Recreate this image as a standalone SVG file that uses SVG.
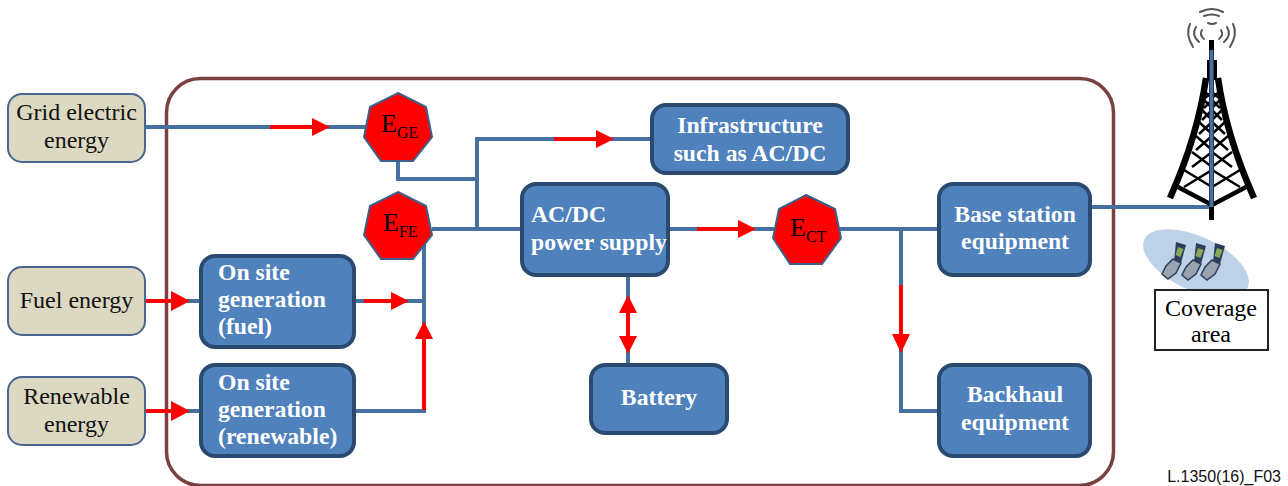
<svg xmlns="http://www.w3.org/2000/svg" width="1288" height="486" viewBox="0 0 1288 486">
<style>
text{font-family:"Liberation Serif","Times New Roman",serif}
.src rect{fill:#ddd8c2;stroke:#4a6590;stroke-width:2}
.src text{font-size:24px;fill:#111;text-anchor:middle}
.box rect{fill:#4f81bd;stroke:#2a4a6f;stroke-width:4}
.box text{font-size:23.700px;font-weight:bold;fill:#fff}
.oct polygon{fill:#f00;stroke:#3e5f8a;stroke-width:2}
.oct text{font-size:26px;fill:#000}
.oct tspan{font-size:16px}
.wire{fill:none;stroke:#45709f;stroke-width:4}
.red{fill:none;stroke:#f00;stroke-width:4}
.head{fill:#f00}
.tw{fill:none;stroke:#000}
.sig{fill:none;stroke:#555;stroke-width:2;stroke-linecap:round}
</style>
<defs>
<g id="phone">
<path d="M1176 242L1186 245L1181 263L1174 261Z" fill="#2f3d5c"/>
<path d="M1178 247L1183.500 249L1180.500 257L1175.500 255Z" fill="#8aa85a"/>
<path d="M1173 259L1181 263L1176 273L1168 279L1162 274L1166 266Z" fill="#9aa4b0" stroke="#2f3d5c" stroke-width="1.500"/>
</g>
</defs>
<rect x="166.500" y="78.500" width="947" height="407" rx="34" fill="#fff" stroke="#7b4040" stroke-width="3.500"/>
<g id="connectors">
<path class="wire" d="M145 127H366M398 160V179H477M432 229H522M477 229V139H652M424 240V411H355M355 301H424M146 301H201M146 411H201M628 275V365M668 229H774M838 229H938M901 229V411H938M1090 207H1211.500V50"/>
<path class="red" d="M270 127H314M146 301H172M146 411H172M364 301H392M424 410V338M554 139H598M628 310V338M697 229H740M901 285V335"/>
<polygon class="head" points="312,118 330,127 312,136"/>
<polygon class="head" points="171,291 190,301 171,311"/>
<polygon class="head" points="171,401 190,411 171,421"/>
<polygon class="head" points="391,292 409,301 391,310"/>
<polygon class="head" points="415,339 424,321 433,339"/>
<polygon class="head" points="596,130 614,139 596,148"/>
<polygon class="head" points="619,313 628,295 637,313"/>
<polygon class="head" points="619,336 628,354 637,336"/>
<polygon class="head" points="738,220 756,229 738,238"/>
<polygon class="head" points="892,334 901,353 910,334"/>
</g>
<g id="grid" class="src"><rect x="8" y="94" width="137" height="68" rx="14"/><text x="76.500" y="120">Grid electric</text><text x="76.500" y="148">energy</text></g>
<g id="fuel" class="src"><rect x="8" y="267" width="137" height="68" rx="14"/><text x="76.500" y="308">Fuel energy</text></g>
<g id="renewable" class="src"><rect x="8" y="377" width="137" height="68" rx="14"/><text x="76.500" y="404">Renewable</text><text x="76.500" y="432">energy</text></g>
<g id="ege" class="oct"><polygon points="398,93 426,107 432,137 413,161 381,161 364,137 370,107"/><text x="381" y="132">E<tspan dy="6">GE</tspan></text></g>
<g id="efe" class="oct"><polygon points="398,192 426,206 432,235 413,259 381,259 364,235 370,206"/><text x="383" y="231">E<tspan dy="6">FE</tspan></text></g>
<g id="ect" class="oct"><polygon points="806,195 835,209 841,238 822,264 790,264 773,238 779,209"/><text x="790" y="236">E<tspan dy="6">CT</tspan></text></g>
<g id="onsite-fuel" class="box"><rect x="201" y="256" width="153" height="91" rx="14"/><text x="218" y="280">On site</text><text x="218" y="307">generation</text><text x="218" y="334">(fuel)</text></g>
<g id="onsite-renewable" class="box"><rect x="201" y="365" width="153" height="91" rx="14"/><text x="218" y="390">On site</text><text x="218" y="417">generation</text><text x="218" y="444">(renewable)</text></g>
<g id="infrastructure" class="box"><rect x="652" y="105" width="196" height="68" rx="14"/><text x="750" y="133" text-anchor="middle">Infrastructure</text><text x="750" y="161" text-anchor="middle">such as AC/DC</text></g>
<g id="acdc" class="box"><rect x="522" y="184" width="146" height="91" rx="14"/><text x="531" y="222">AC/DC</text><text x="531" y="250">power supply</text></g>
<g id="battery" class="box"><rect x="591" y="365" width="136" height="68" rx="14"/><text x="659" y="405" text-anchor="middle">Battery</text></g>
<g id="bs" class="box"><rect x="939" y="184" width="151" height="91" rx="14"/><text x="1015" y="222" text-anchor="middle">Base station</text><text x="1015" y="249" text-anchor="middle">equipment</text></g>
<g id="backhaul" class="box"><rect x="939" y="365" width="151" height="91" rx="14"/><text x="1015" y="402" text-anchor="middle">Backhaul</text><text x="1015" y="430" text-anchor="middle">equipment</text></g>
<g id="tower">
<path d="M1211.500 40V220" stroke="#000" stroke-width="5" fill="none"/>
<rect x="1207" y="60" width="10" height="20" fill="#000"/>
<path class="tw" stroke-width="6.500" d="M1206 78Q1198 135 1170 198M1218 78Q1226 135 1254 198"/>
<path class="tw" stroke-width="4.500" d="M1178 187L1212 205L1246 187"/>
<path class="tw" stroke-width="2.500" d="M1205 92L1212 98L1219 92M1205 98L1212 92L1219 98M1204 100L1212 108L1220 100M1204 108L1212 100L1220 108M1202 110L1212 120L1222 110M1202 120L1212 110L1222 120M1199 122L1212 134L1225 122M1199 134L1212 122L1225 134M1196 136L1212 150L1228 136M1196 150L1212 136L1228 150M1192 152L1212 167L1232 152M1192 167L1212 152L1232 167M1184 170L1212 187L1240 170M1184 187L1212 170L1240 187"/>
<path class="wire" d="M1211.500 50V207"/>
<path class="sig" d="M1200 12Q1212 6 1223 12M1204 16Q1212 13 1219 16M1208 23Q1212 25 1216 23M1190 24Q1185 34 1193 47M1233 24Q1238 34 1230 47M1196 27Q1191 35 1199 42M1227 27Q1232 35 1224 42M1202 30Q1199 35 1204 39M1221 30Q1224 35 1219 39"/>
</g>
<g id="coverage">
<ellipse cx="1196" cy="263.500" rx="57" ry="27" fill="#bdd2e6" transform="rotate(25 1196 263.500)"/>
<g id="phones">
<use href="#phone"/>
<use href="#phone" x="20" y="1"/>
<use href="#phone" x="39" y="1"/>
</g>
<rect x="1155" y="290" width="113" height="60" fill="#fff" stroke="#222" stroke-width="2"/>
<text x="1211" y="316" font-size="24" text-anchor="middle">Coverage</text>
<text x="1211" y="342" font-size="24" text-anchor="middle">area</text>
</g>
<text x="1281" y="482" font-size="16" text-anchor="end" style="font-family:'Liberation Sans',Arial,sans-serif" fill="#111">L.1350(16)_F03</text>
</svg>
